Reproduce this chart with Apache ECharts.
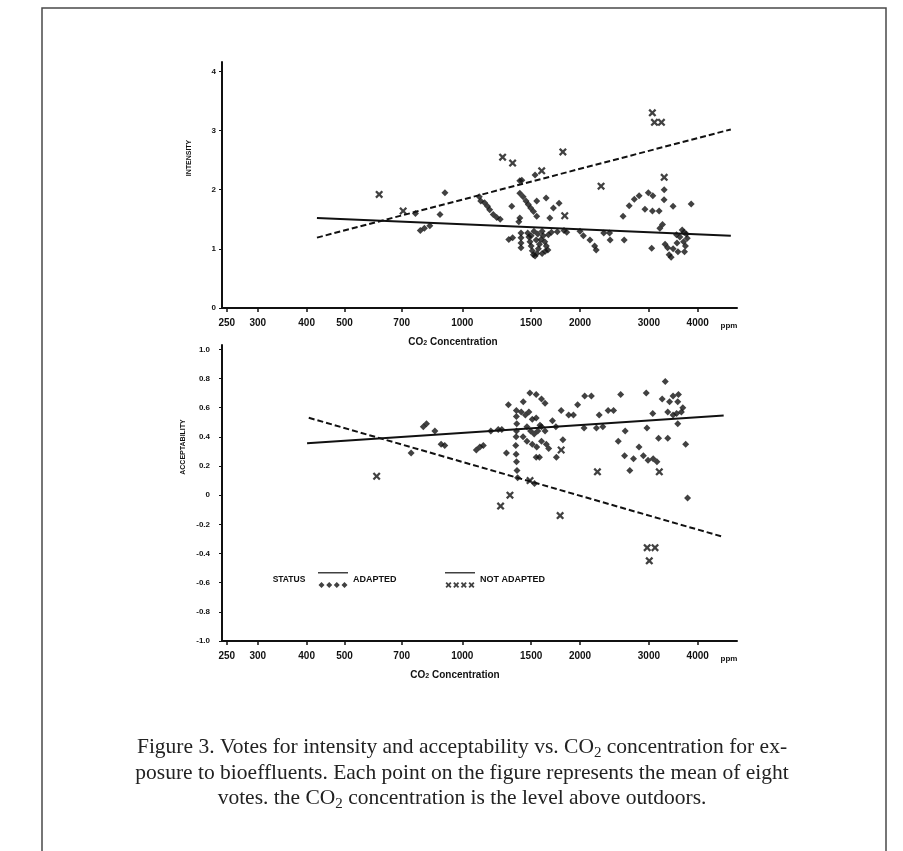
<!DOCTYPE html>
<html>
<head>
<meta charset="utf-8">
<title>Figure 3 - Votes vs CO2 concentration</title>
<script src="https://cdn.jsdelivr.net/npm/echarts@6/dist/echarts.min.js"></script>
<style>
  html, body { margin: 0; padding: 0; background: #fff; }
  #chart { width: 903px; height: 851px; }
</style>
</head>
<body>
<div id="chart"></div>
<script>
// x axis: CO2 concentration above outdoors, ppm (log scale)
const ppmTicks = [250, 300, 400, 500, 700, 1000, 1500, 2000, 3000, 4000];
const ppmRange = [243, 5040];

const intensityTicks = [0, 1, 2, 3, 4];
const acceptabilityTicks = [-1, -0.8, -0.6, -0.4, -0.2, 0, 0.2, 0.4, 0.6, 0.8, 1];

// points are [ppm, mean of eight votes]
const intensityAdapted = [
  [759, 1.60], [781, 1.31], [800, 1.35], [826, 1.39], [877, 1.58], [903, 1.95],
  [1105, 1.88], [1115, 1.81], [1140, 1.78], [1160, 1.72], [1175, 1.66], [1200, 1.58],
  [1225, 1.53], [1250, 1.50], [1315, 1.16], [1338, 1.72], [1345, 1.19],
  [1403, 2.15], [1420, 2.16], [1535, 2.25],
  [1403, 1.94], [1431, 1.88], [1455, 1.81], [1475, 1.75], [1496, 1.69], [1521, 1.63],
  [1550, 1.81], [1638, 1.86], [1710, 1.69], [1768, 1.77], [1674, 1.52], [1550, 1.55],
  [1403, 1.52], [1395, 1.46],
  [1413, 1.27], [1413, 1.19], [1413, 1.10], [1413, 1.02],
  [1470, 1.27], [1480, 1.20], [1490, 1.12], [1500, 1.05], [1510, 0.97], [1520, 0.90],
  [1535, 0.88], [1550, 0.92], [1565, 1.00], [1575, 1.08], [1590, 1.16], [1610, 1.22],
  [1625, 1.12], [1640, 1.05], [1630, 0.96], [1660, 1.24], [1690, 1.28], [1525, 1.30],
  [1560, 1.25], [1600, 1.30], [1655, 0.98], [1600, 0.92], [1500, 1.22], [1545, 1.15],
  [1750, 1.29], [1820, 1.31], [1850, 1.28],
  [2000, 1.30], [2040, 1.22], [2120, 1.15], [2180, 1.05], [2200, 0.98], [2300, 1.27],
  [2380, 1.27], [2388, 1.15], [2594, 1.15],
  [2577, 1.55], [2672, 1.73], [2753, 1.84], [2833, 1.90], [2990, 1.95], [3070, 1.90],
  [2931, 1.67], [3063, 1.64], [3187, 1.64], [3283, 2.00], [3280, 1.83], [3459, 1.72],
  [3848, 1.76], [3050, 1.01], [3250, 1.41], [3200, 1.35],
  [3300, 1.08], [3350, 1.02], [3380, 0.90], [3420, 0.86], [3460, 1.00], [3560, 0.95],
  [3540, 1.10], [3600, 1.20], [3650, 1.32], [3680, 1.12], [3720, 1.05], [3700, 0.95],
  [3740, 1.25], [3760, 1.18], [3690, 1.28], [3530, 1.24]
];
const intensityNotAdapted = [
  [613, 1.92], [706, 1.64], [1268, 2.55], [1345, 2.45], [1596, 2.32], [1808, 2.64],
  [1828, 1.56], [2264, 2.06], [3062, 3.30], [3100, 3.14], [3230, 3.14], [3283, 2.21]
];
const intensityAdaptedFit = [[425, 1.52], [4860, 1.22]];
const intensityNotAdaptedFit = [[425, 1.19], [4860, 3.02]];

const acceptabilityAdapted = [
  [740, 0.29], [795, 0.47], [810, 0.49], [851, 0.44], [883, 0.35], [902, 0.34],
  [1086, 0.31], [1109, 0.33], [1132, 0.34], [1183, 0.44], [1236, 0.45], [1262, 0.45],
  [1297, 0.29], [1312, 0.62],
  [1375, 0.58], [1375, 0.54], [1378, 0.49], [1376, 0.44], [1373, 0.40], [1370, 0.34],
  [1373, 0.28], [1376, 0.23], [1380, 0.17], [1385, 0.12],
  [1432, 0.64], [1489, 0.70], [1545, 0.69], [1594, 0.66], [1628, 0.63],
  [1415, 0.57], [1450, 0.55], [1480, 0.57], [1510, 0.52], [1545, 0.53], [1580, 0.48],
  [1463, 0.47], [1495, 0.44], [1527, 0.42], [1560, 0.44], [1594, 0.47], [1628, 0.44],
  [1430, 0.40], [1463, 0.37], [1510, 0.35], [1550, 0.33], [1594, 0.37], [1640, 0.35],
  [1663, 0.32], [1545, 0.26], [1575, 0.26], [1530, 0.08],
  [1700, 0.51], [1735, 0.47], [1740, 0.26], [1808, 0.38], [1790, 0.58], [1871, 0.55],
  [1924, 0.55], [1972, 0.62], [2056, 0.68], [2138, 0.68], [2048, 0.46], [2203, 0.46],
  [2239, 0.55], [2287, 0.47], [2360, 0.58], [2437, 0.58], [2505, 0.37], [2541, 0.69],
  [2600, 0.27], [2609, 0.44], [2681, 0.17], [2740, 0.25], [2830, 0.33], [2904, 0.27],
  [2985, 0.24], [2966, 0.46], [2954, 0.70], [3077, 0.25], [3146, 0.23], [3069, 0.56],
  [3176, 0.39],
  [3303, 0.78], [3245, 0.66], [3388, 0.64], [3459, 0.68], [3570, 0.69], [3556, 0.64],
  [3352, 0.57], [3459, 0.55], [3532, 0.56], [3632, 0.57], [3664, 0.60], [3556, 0.49],
  [3352, 0.39], [3726, 0.35], [3767, -0.02]
];
const acceptabilityNotAdapted = [
  [604, 0.13], [1253, -0.075], [1324, 0.0], [1490, 0.10], [1779, -0.14], [1790, 0.31],
  [2216, 0.16], [3190, 0.16], [2970, -0.36], [3110, -0.36], [3007, -0.45]
];
const acceptabilityAdaptedFit = [[401, 0.356], [4660, 0.547]];
const acceptabilityNotAdaptedFit = [[405, 0.531], [4660, -0.287]];

const caption = [
  'Figure 3. Votes for intensity and acceptability vs. CO{sub|2} concentration for ex-',
  'posure to bioeffluents. Each point on the figure represents the mean of eight',
  'votes. the CO{sub|2} concentration is the level above outdoors.'
];

const INK = '#111';
const SANS = '"Liberation Sans", Arial, sans-serif';
const X_MARK = 'path://M0,2L2,0L5,3L8,0L10,2L7,5L10,8L8,10L5,7L2,10L0,8L3,5Z';

const logPts = pts => pts.map(([ppm, v]) => [Math.log10(ppm), v]);

// legend icons: regression line on top, four plot symbols underneath
function diamondAt(cx, cy, r) {
  return `M${cx} ${cy - r}L${cx + r} ${cy}L${cx} ${cy + r}L${cx - r} ${cy}Z`;
}
function crossAt(cx, cy, a, t) {
  return `M${cx - a} ${cy - a + t}L${cx - a + t} ${cy - a}L${cx} ${cy - t}L${cx + a - t} ${cy - a}` +
    `L${cx + a} ${cy - a + t}L${cx + t} ${cy}L${cx + a} ${cy + a - t}L${cx + a - t} ${cy + a}` +
    `L${cx} ${cy + t}L${cx - a + t} ${cy + a}L${cx - a} ${cy + a - t}L${cx - t} ${cy}Z`;
}
const iconLine = 'M0 0L30 0L30 1.5L0 1.5Z';
const iconCenters = [3.5, 11.2, 18.8, 26.5];
const adaptedIcon = 'path://' + iconLine + iconCenters.map(c => diamondAt(c, 13, 3)).join('');
const notAdaptedIcon = 'path://' + iconLine + iconCenters.map(c => crossAt(c, 13, 3, 1.3)).join('');

function xAxisFor(gridIndex) {
  const ticks = ppmTicks.map(v => Math.log10(v));
  return {
    type: 'value',
    gridIndex,
    min: Math.log10(ppmRange[0]),
    max: Math.log10(ppmRange[1]),
    axisLine: { onZero: false, lineStyle: { color: INK, width: 2 } },
    axisTick: { customValues: ticks, length: 4, lineStyle: { color: INK, width: 1.5 } },
    axisLabel: {
      customValues: ticks,
      margin: 10,
      color: INK,
      fontSize: 10,
      fontWeight: 'bold',
      fontFamily: SANS,
      formatter: v => String(Math.round(Math.pow(10, v)))
    },
    splitLine: { show: false }
  };
}

function yAxisFor(gridIndex, ticks, min, max, margin, fmt) {
  return {
    type: 'value',
    gridIndex,
    min,
    max,
    axisLine: { show: true, onZero: false, lineStyle: { color: INK, width: 2 } },
    axisTick: { show: true, customValues: ticks, length: 3, lineStyle: { color: INK, width: 1 } },
    axisLabel: {
      customValues: ticks,
      margin,
      color: INK,
      fontSize: 8,
      fontWeight: 'bold',
      fontFamily: SANS,
      formatter: fmt
    },
    splitLine: { show: false }
  };
}

function scatter(name, idx, data, symbol, size) {
  return {
    name, type: 'scatter', xAxisIndex: idx, yAxisIndex: idx,
    data: logPts(data), symbol, symbolSize: size,
    itemStyle: { color: INK }, z: 3
  };
}

function fitLine(name, idx, data, dashed) {
  return {
    name, type: 'line', xAxisIndex: idx, yAxisIndex: idx,
    data: logPts(data), symbol: 'none',
    lineStyle: { color: INK, width: 2, type: dashed ? [6, 3] : 'solid' },
    z: 2
  };
}

function label(text, x, y, size, rotate) {
  return {
    type: 'text', x, y, rotation: rotate ? Math.PI / 2 : 0, silent: true,
    style: {
      text, fill: INK, fontSize: size, fontWeight: 'bold', fontFamily: SANS,
      align: 'center', verticalAlign: 'middle',
      rich: { sub: { fontSize: size - 3, fontWeight: 'bold', fontFamily: SANS, fill: INK, verticalAlign: 'bottom', lineHeight: 8 } }
    }
  };
}

const legendText = { color: INK, fontSize: 9, fontWeight: 'bold', fontFamily: SANS };

const option = {
  animation: false,
  backgroundColor: '#fff',
  title: {
    text: caption.join('\n'),
    left: 462,
    top: 735,
    padding: 0,
    textAlign: 'center',
    textStyle: {
      fontFamily: '"Liberation Serif", "Times New Roman", serif',
      fontSize: 21.5,
      fontWeight: 'normal',
      lineHeight: 25.5,
      color: '#222',
      rich: {
        sub: { fontFamily: '"Liberation Serif", serif', fontSize: 15, color: '#222', verticalAlign: 'bottom', lineHeight: 18 }
      }
    }
  },
  legend: [
    {
      data: [{ name: 'ADAPTED', icon: adaptedIcon }],
      left: 318, top: 572, padding: 0, itemWidth: 30, itemHeight: 16,
      selectedMode: false, textStyle: legendText
    },
    {
      data: [{ name: 'NOT ADAPTED', icon: notAdaptedIcon }],
      left: 445, top: 572, padding: 0, itemWidth: 30, itemHeight: 16,
      selectedMode: false, textStyle: legendText
    }
  ],
  grid: [
    { left: 222, top: 62, width: 515, height: 246 },
    { left: 222, top: 345, width: 515, height: 296 }
  ],
  xAxis: [xAxisFor(0), xAxisFor(1)],
  yAxis: [
    yAxisFor(0, intensityTicks, 0, 4.16, 6, v => String(v)),
    yAxisFor(1, acceptabilityTicks, -1, 1.03, 12, v => (Math.abs(v) < 1e-9 ? '0' : v.toFixed(1)))
  ],
  series: [
    fitLine('ADAPTED fit', 0, intensityAdaptedFit, false),
    fitLine('NOT ADAPTED fit', 0, intensityNotAdaptedFit, true),
    scatter('ADAPTED', 0, intensityAdapted, 'diamond', 7),
    scatter('NOT ADAPTED', 0, intensityNotAdapted, X_MARK, 8),
    fitLine('ADAPTED fit', 1, acceptabilityAdaptedFit, false),
    fitLine('NOT ADAPTED fit', 1, acceptabilityNotAdaptedFit, true),
    scatter('ADAPTED', 1, acceptabilityAdapted, 'diamond', 7),
    scatter('NOT ADAPTED', 1, acceptabilityNotAdapted, X_MARK, 8)
  ],
  graphic: [
    {
      type: 'rect', silent: true,
      shape: { x: 42, y: 8, width: 844, height: 880 },
      style: { fill: 'none', stroke: '#4a4a4a', lineWidth: 1.5 }
    },
    label('INTENSITY', 189, 158, 7, true),
    label('ACCEPTABILITY', 183, 447, 7, true),
    label('CO{sub|2} Concentration', 453, 342, 10, false),
    label('CO{sub|2} Concentration', 455, 675, 10, false),
    label('ppm', 729, 326, 8, false),
    label('ppm', 729, 659, 8, false),
    label('STATUS', 289, 580, 8.5, false)
  ]
};

const chart = echarts.init(document.getElementById('chart'));
chart.setOption(option);
</script>
</body>
</html>
